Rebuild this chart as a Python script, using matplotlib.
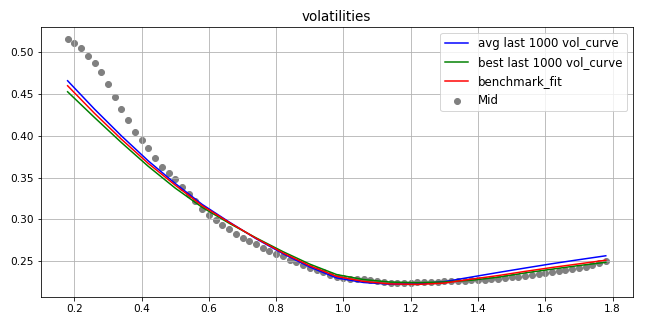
#!/usr/bin/env python
"""volatilities: fitted vol curves vs market mid vols."""
import matplotlib

matplotlib.use("Agg")
import matplotlib.pyplot as plt
import numpy as np

# market mid vols, strikes 0.18 .. 1.78 step 0.02
mid_x = np.round(np.arange(0.18, 1.7801, 0.02), 2)
mid_vol = [
    0.516, 0.511, 0.505, 0.496, 0.487, 0.476, 0.462, 0.447, 0.432, 0.419,
    0.405, 0.395, 0.386, 0.374, 0.363, 0.355, 0.348, 0.339, 0.331, 0.322,
    0.313, 0.305, 0.299, 0.293, 0.289, 0.283, 0.278, 0.274, 0.270, 0.266,
    0.262, 0.259, 0.256, 0.252, 0.249, 0.245, 0.242, 0.240, 0.237, 0.233,
    0.2305, 0.2295, 0.229, 0.2288, 0.2282, 0.227, 0.226, 0.225, 0.2245, 0.2243,
    0.2243, 0.2245, 0.225, 0.2253, 0.2255, 0.2257, 0.2258, 0.226, 0.2262, 0.2265,
    0.227, 0.2275, 0.228, 0.2285, 0.229, 0.2298, 0.2305, 0.2313, 0.2322, 0.2332,
    0.2343, 0.2355, 0.2367, 0.238, 0.2393, 0.2407, 0.2421, 0.2436, 0.2452, 0.2475,
    0.250,
]

# fitted curves, strikes 0.18 .. 1.78 step 0.08
fit_x = np.round(np.arange(0.18, 1.7801, 0.08), 2)
avg_curve = [
    0.466, 0.432, 0.400, 0.370, 0.343, 0.318, 0.297, 0.277, 0.259, 0.243,
    0.230, 0.2245, 0.2225, 0.2228, 0.2255, 0.231, 0.2365, 0.2418, 0.247, 0.2518,
    0.2565,
]
best_curve = [
    0.4528, 0.422, 0.392, 0.3635, 0.3375, 0.3145, 0.2955, 0.278, 0.2615, 0.2465,
    0.2340, 0.2280, 0.2250, 0.2242, 0.2252, 0.2272, 0.2308, 0.236, 0.2405, 0.2448,
    0.2487,
]
bench_fit = [
    0.460, 0.427, 0.396, 0.367, 0.341, 0.3165, 0.2965, 0.2775, 0.260, 0.2445,
    0.2318, 0.2258, 0.2228, 0.2222, 0.2238, 0.2285, 0.2328, 0.2378, 0.2425, 0.2468,
    0.2512,
]

W, H, DPI = 645, 323, 72
fig, ax = plt.subplots(figsize=(W / DPI, H / DPI), dpi=DPI)
fig.subplots_adjust(left=40.7 / W, right=632.7 / W, top=1 - 26.7 / H, bottom=1 - 296.7 / H)

ax.plot(fit_x, avg_curve, color="blue", label="avg last 1000 vol_curve")
ax.plot(fit_x, best_curve, color="green", label="best last 1000 vol_curve")
ax.plot(fit_x, bench_fit, color="red", label="benchmark_fit")
ax.scatter(mid_x, mid_vol, color="grey", label="Mid")

ax.set_title("volatilities", fontsize=13.5)
ax.tick_params(labelsize=10.5)
ax.grid(True)
ax.legend(loc="upper right", fontsize=11.7)

fig.savefig("out.png", dpi=DPI)
